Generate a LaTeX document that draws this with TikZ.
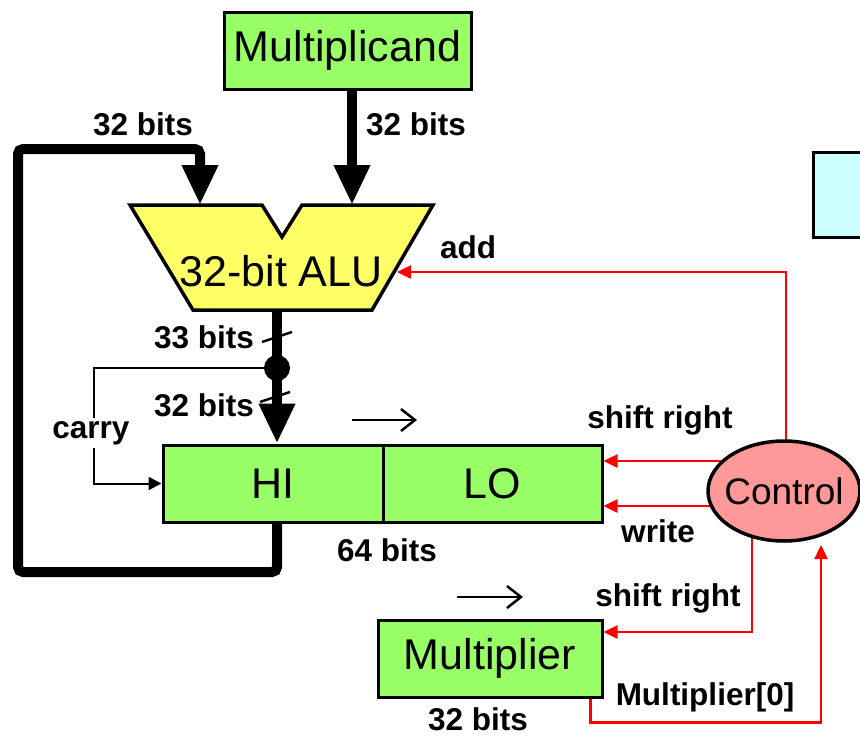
\documentclass[tikz,border=0pt]{standalone}
\usepackage{fontspec}
\setmainfont{Liberation Sans}
\usetikzlibrary{arrows.meta,shapes.geometric,backgrounds,calc}
\definecolor{regg}{HTML}{99FF66}
\definecolor{aluy}{HTML}{FFFF66}
\definecolor{ctrlc}{HTML}{FF9999}
\definecolor{cyanb}{HTML}{CCFFFF}
\definecolor{redl}{HTML}{FF0000}
\begin{document}
\begin{tikzpicture}[x=1pt,y=-1pt,
  box/.style={draw,line width=3pt,rectangle,inner sep=0pt,font=\fontsize{43}{48}\selectfont},
  lab/.style={font=\fontsize{31.5}{36}\selectfont\bfseries,inner sep=1pt},
  bus/.style={line width=10pt,-{Triangle[length=40pt,width=34pt]}},
  ctl/.style={draw=redl,line width=2.5pt,-{Triangle[length=14pt,width=13pt]},fill=none},
  thinl/.style={line width=2.5pt},
  dirarrow/.style={line width=2.5pt,-{Straight Barb[length=14pt,width=22pt]}},
]
\useasboundingbox (0,0) rectangle (860,737);

% partially visible box at the right
\node[box,fill=cyanb,minimum width=100pt,minimum height=85pt,anchor=north west] (cy) at (812,151) {};

% Multiplicand
\node[box,fill=regg,minimum width=247pt,minimum height=77pt] (mcand) at (347.5,50.5) {Multiplicand};

% ALU
\draw[line width=3.5pt,fill=aluy] (130,205) -- (262,205) -- (282,237) -- (302,205) -- (433,205) -- (372,310) -- (193,310) -- cycle;
\node[font=\fontsize{43}{48}\selectfont,inner sep=0pt] (alu) at (281,271) {32-bit ALU};
\coordinate (alua) at (200,205);
\coordinate (alub) at (352,205);
\coordinate (aluo) at (277,310);
\coordinate (aluadd) at (397,272);

% Product register
\node[box,fill=regg,minimum width=220pt,minimum height=77pt] (hi) at (273,483.5) {HI};
\node[box,fill=regg,minimum width=219pt,minimum height=77pt] (lo) at (492.5,483.5) {LO};

% Control
\node[draw,line width=3.5pt,ellipse,fill=ctrlc,minimum width=152pt,minimum height=100pt,inner sep=0pt] (ctrl) at (784,491) {};
\node[font=\fontsize{37}{40}\selectfont,inner sep=0pt] (ctrltxt) at (ctrl.center) {Control};

% Multiplier
\node[box,fill=regg,minimum width=224pt,minimum height=77pt] (mplier) at (490,658.5) {Multiplier};

% junction dot
\node[circle,fill,inner sep=0pt,minimum size=26pt] (dot) at (277,368) {};

% buses
\draw[bus] (mcand.south -| alub) -- (alub);
\draw[bus,rounded corners=5pt] (hi.south -| aluo) -- (277,572) -- (18,572) -- (18,149) -- (200,149) -- (alua);
\draw[bus] (aluo) -- (hi.north -| aluo);

% bus width slashes
\draw[thinl] (262,342) -- (292,332);
\draw[thinl] (260,402) -- (290,392);

% carry
\draw[line width=2pt,-{Triangle[length=13pt,width=13pt]}] (dot.west) -- (94,368) |- (hi.west);
\node[lab,fill=white,inner sep=3pt] (carry) at (91,433) {carry};

% shift direction arrows
\coordinate (sa1) at (352,420);
\coordinate (sa2) at (417,420);
\coordinate (sb1) at (457,597);
\coordinate (sb2) at (523,597);
\draw[dirarrow] (sa1) -- (sa2);
\draw[dirarrow] (sb1) -- (sb2);

% control lines
\coordinate (m0end) at ($(ctrl.center)+(37,54)$);
\begin{pgfonlayer}{background}
\draw[ctl] ($(ctrl.center)+(2,0)$) |- (aluadd);
\draw[ctl] ($(ctrl.center)+(0,-30)$) -- ($(lo.east)+(0,-22.5)$);
\draw[ctl] ($(ctrl.center)+(0,15)$) -- ($(lo.east)+(0,22.5)$);
\draw[ctl] ($(ctrl.center)+(-32,0)$) |- ($(mplier.east)+(0,-26.5)$);
\draw[ctl] ($(mplier.south east)+(-13,0)$) -- ++(0,24) -| (m0end);
\end{pgfonlayer}

% labels
\node[lab] (l1) at (143,124) {32 bits};
\node[lab] (l2) at (416,124) {32 bits};
\node[lab] (l3) at (468,247) {add};
\node[lab] (l4) at (204,337) {33 bits};
\node[lab] (l5) at (204,405) {32 bits};
\node[lab] (l6) at (660,420) {shift right};
\node[lab] (l7) at (658,531) {write};
\node[lab] (l8) at (387,550) {64 bits};
\node[lab] (l9) at (668,598) {shift right};
\node[lab] (l10) at (705,697) {Multiplier[0]};
\node[lab] (l11) at (478,719) {32 bits};
\end{tikzpicture}
\end{document}
